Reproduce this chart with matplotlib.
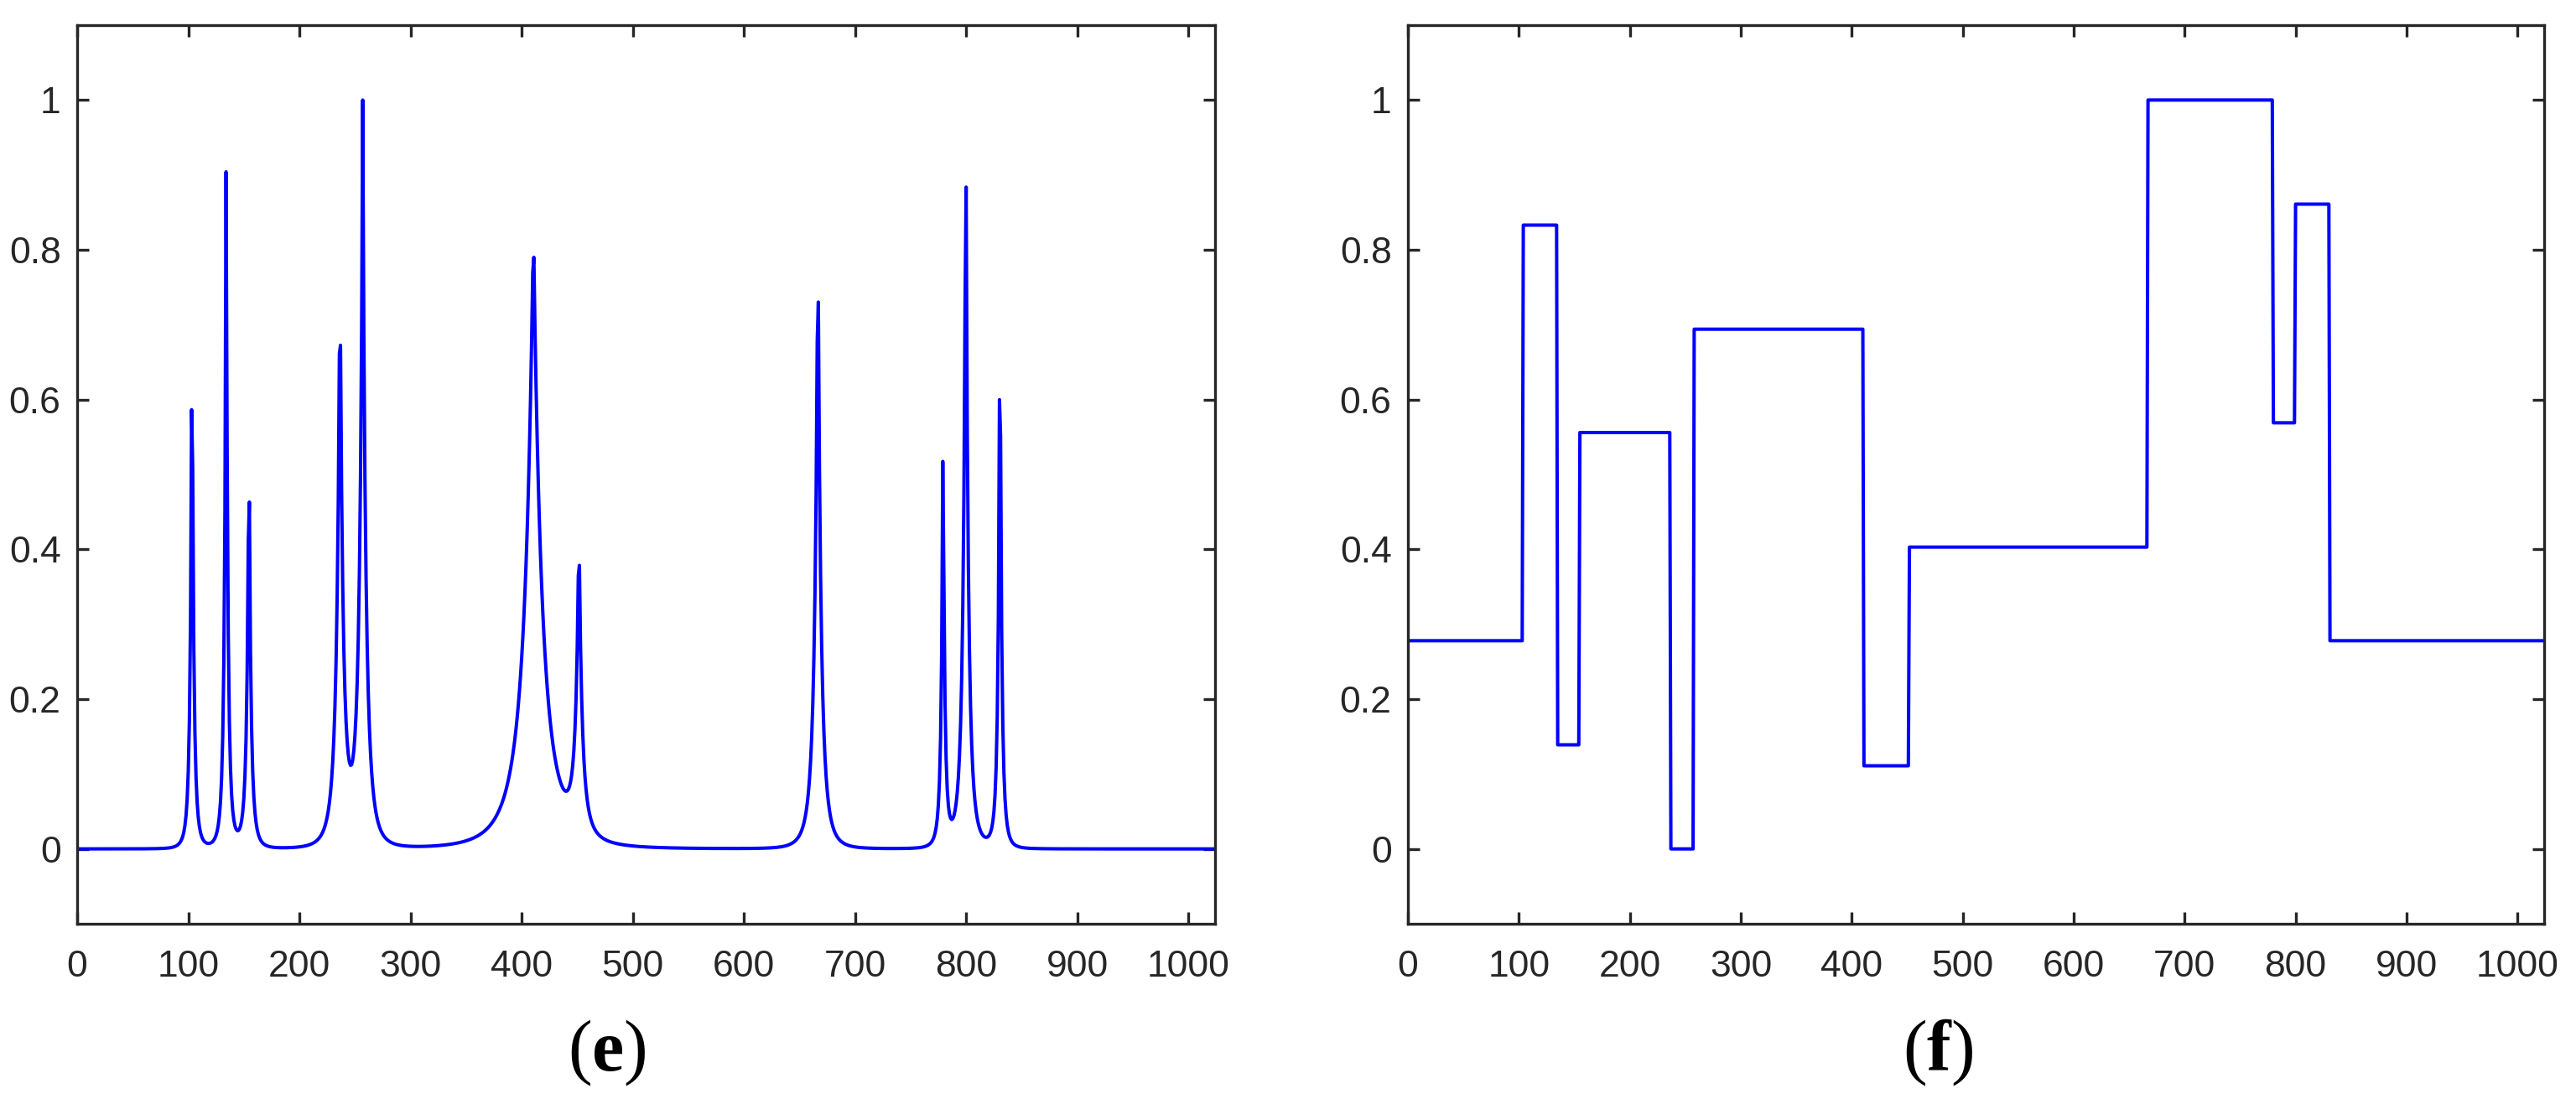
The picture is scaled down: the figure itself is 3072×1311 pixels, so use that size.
import numpy as np
import matplotlib
matplotlib.use('Agg')
import matplotlib.pyplot as plt

# test signals
n_samples = 1024
bump_pos = [0.10, 0.13, 0.15, 0.23, 0.25, 0.40, 0.44, 0.65, 0.76, 0.78, 0.81]
bump_height = [4.0, 5.0, 3.0, 4.0, 5.0, 4.2, 2.1, 4.3, 3.1, 5.1, 4.2]
bump_width = [0.005, 0.005, 0.006, 0.01, 0.01, 0.03, 0.01, 0.01, 0.005, 0.008, 0.005]

# (f) piecewise constant: sample index where each level starts, and its level
block_start = [0, 103, 134, 154, 236, 257, 410, 451, 666, 779, 799, 830]
block_level = [0.278, 0.833, 0.139, 0.556, 0.0, 0.694, 0.111, 0.403, 1.0, 0.569, 0.861, 0.278]

x_ticks = [0, 100, 200, 300, 400, 500, 600, 700, 800, 900, 1000]
y_ticks = [0, 0.2, 0.4, 0.6, 0.8, 1]
y_ticklabels = ['0', '0.2', '0.4', '0.6', '0.8', '1']

plt.rcParams['font.family'] = ['Liberation Sans', 'DejaVu Sans']
plt.rcParams['mathtext.fontset'] = 'custom'
plt.rcParams['mathtext.rm'] = 'Liberation Serif'
plt.rcParams['mathtext.bf'] = 'Liberation Serif:bold'

AX_COL = '#262626'
LINE_COL = '#0000ff'

# bumps signal on the sample grid
t = np.arange(n_samples) / n_samples
bumps = np.zeros(n_samples)
for p, h, w in zip(bump_pos, bump_height, bump_width):
    bumps += h * (1 + np.abs((t - p) / w)) ** -4
bumps = (bumps - bumps.min()) / (bumps.max() - bumps.min())

# blocks signal on the sample grid
idx = np.arange(n_samples)
blocks = np.array(block_level)[np.searchsorted(block_start, idx, side='right') - 1]

xs = idx + 1  # matlab style 1-based sample index

fig = plt.figure(figsize=(30.72, 13.11), dpi=100)
ax1 = fig.add_axes([92 / 3072, 209 / 1311, 1357 / 3072, 1072 / 1311])
ax2 = fig.add_axes([1679 / 3072, 209 / 1311, 1355 / 3072, 1072 / 1311])

ax1.plot(xs, bumps, color=LINE_COL, linewidth=2.9)
ax2.plot(xs, blocks, color=LINE_COL, linewidth=2.9)

for ax in (ax1, ax2):
    ax.set_xlim(0, 1024)
    ax.set_ylim(-0.1, 1.1)
    ax.set_xticks(x_ticks)
    ax.set_yticks(y_ticks)
    ax.set_yticklabels(y_ticklabels)
    for sp in ax.spines.values():
        sp.set_color(AX_COL)
        sp.set_linewidth(2.4)
    ax.tick_params(direction='in', length=10, width=2.4, colors=AX_COL,
                   labelsize=32, top=True, right=True)
    ax.tick_params(axis='x', pad=22)
    ax.tick_params(axis='y', pad=14)

fig.text(724 / 3072, 55 / 1311, r'$\mathrm{(}\mathbf{e}\mathrm{)}$', fontsize=62,
         ha='center', va='center', color='black')
fig.text(2311 / 3072, 55 / 1311, r'$\mathrm{(}\mathbf{f}\mathrm{)}$', fontsize=62,
         ha='center', va='center', color='black')

fig.savefig('out.png', dpi=100, facecolor='white')
